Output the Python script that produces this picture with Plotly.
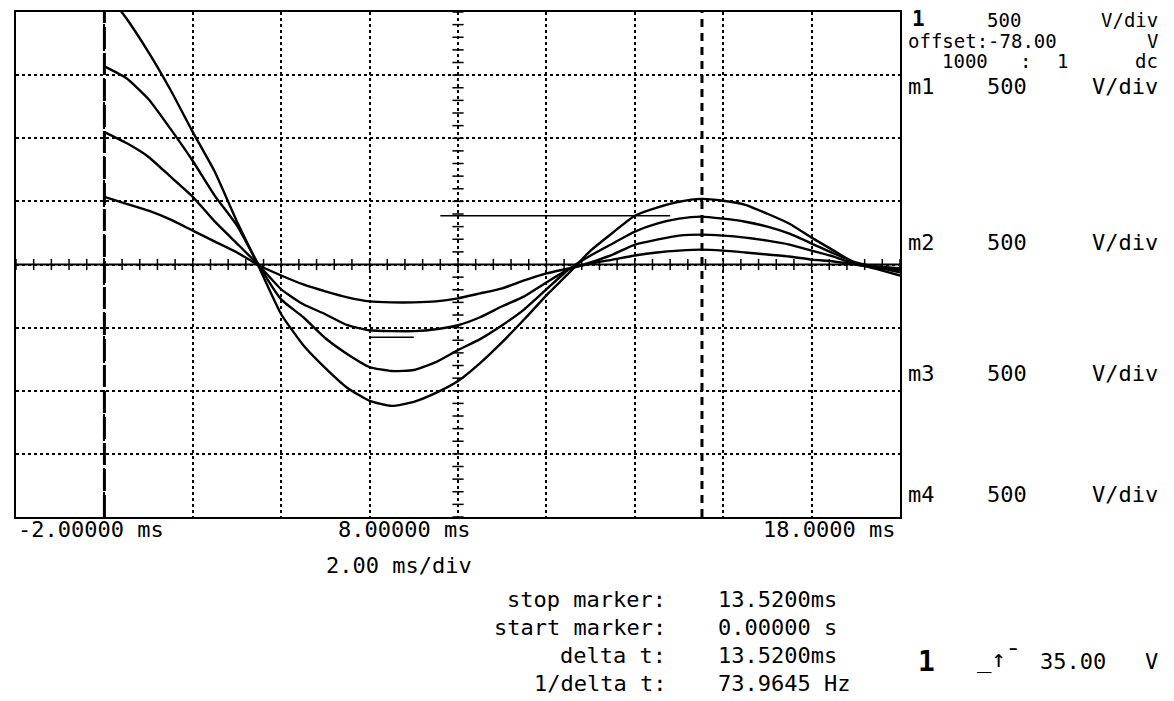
import plotly.graph_objects as go

# ---------------- data ----------------
time_ms = [0, 0.5, 1, 1.5, 2, 2.5, 3, 3.5, 4, 4.5, 5, 5.5, 6, 6.5, 7, 7.5, 8, 8.5,
           9, 9.5, 10, 10.5, 11, 11.5, 12, 12.5, 13, 13.5, 14, 14.5, 15, 15.5, 16,
           16.5, 17, 17.5, 18]

trace_1_v = [536, 481, 426, 355, 268, 181, 95, -8, -87, -158, -213, -260, -292, -300,
             -300, -292, -268, -229, -189, -126, -71, -32, 8, 39, 71, 95, 110, 118,
             110, 95, 79, 63, 39, 24, 0, -16, -32]
trace_2_v = [1049, 962, 852, 694, 536, 339, 166, -8, -197, -315, -394, -481, -521, -528,
             -528, -513, -481, -418, -331, -252, -142, -39, 16, 79, 158, 197, 229, 237,
             229, 213, 189, 158, 110, 63, 0, -24, -47]
trace_3_v = [1569, 1475, 1309, 1072, 820, 544, 308, -8, -276, -418, -584, -710, -812, -844,
             -836, -773, -678, -591, -481, -355, -197, -39, 71, 166, 260, 323, 363, 379,
             363, 339, 300, 244, 166, 87, 16, -24, -63]
trace_4_v = [2177, 1948, 1680, 1380, 1049, 733, 339, -24, -394, -639, -820, -978, -1080, -1120,
             -1088, -1017, -923, -781, -615, -434, -244, -71, 110, 252, 386, 450, 497, 520,
             505, 473, 402, 323, 213, 110, 8, -39, -87]

start_marker_ms = 0.0
stop_marker_ms = 13.52

# stray horizontal print segments
seg1_t = [7.6, 12.8]
seg1_v = [386, 386]
seg2_t = [6.0, 7.0]
seg2_v = [-576, -576]

x_range = [-2, 18]
y_range = [-2000, 2000]
x_div = 2
y_div = 500

# ---------------- figure ----------------
FONT = "DejaVu Sans Mono"
fig = go.Figure()

for vals in [trace_1_v, trace_2_v, trace_3_v, trace_4_v]:
    fig.add_trace(go.Scatter(x=time_ms, y=vals, mode="lines",
                             line=dict(color="black", width=2.4, shape="spline", smoothing=0.5),
                             showlegend=False, hoverinfo="skip"))

for st, sv in [(seg1_t, seg1_v), (seg2_t, seg2_v)]:
    fig.add_trace(go.Scatter(x=st, y=sv, mode="lines", line=dict(color="black", width=1.5),
                             showlegend=False, hoverinfo="skip"))

# marker lines
fig.add_trace(go.Scatter(x=[start_marker_ms, start_marker_ms], y=y_range, mode="lines",
                         line=dict(color="black", width=3, dash="22px,4px"),
                         showlegend=False, hoverinfo="skip"))
fig.add_trace(go.Scatter(x=[stop_marker_ms, stop_marker_ms], y=y_range, mode="lines",
                         line=dict(color="black", width=3, dash="8px,6px"),
                         showlegend=False, hoverinfo="skip"))

# center-line minor ticks
xt = [x_range[0] + 0.4 * k for k in range(int((x_range[1] - x_range[0]) / 0.4) + 1)]
fig.add_trace(go.Scatter(x=xt, y=[0] * len(xt), mode="markers",
                         marker=dict(symbol="line-ns", size=8, line=dict(color="black", width=1.5)),
                         showlegend=False, hoverinfo="skip"))
yt = [y_range[0] + 100 * k for k in range(int((y_range[1] - y_range[0]) / 100) + 1)]
fig.add_trace(go.Scatter(x=[8] * len(yt), y=yt, mode="markers",
                         marker=dict(symbol="line-ew", size=8, line=dict(color="black", width=1.5)),
                         showlegend=False, hoverinfo="skip"))
# solid horizontal centre line
fig.add_trace(go.Scatter(x=x_range, y=[0, 0], mode="lines", line=dict(color="black", width=2),
                         showlegend=False, hoverinfo="skip"))

# page geometry (the html body has an 8px margin)
PAGE_W, PAGE_H, BODY = 1174, 701, 8
W, H = PAGE_W - BODY, PAGE_H - BODY
PL, PR, PT, PB = 16, 900, 10, 517          # plot area in page pixels
L, T = PL - BODY, PT - BODY
R, B = PAGE_W - PR, PAGE_H - PB
PW, PH = PR - PL, PB - PT


def px(x):
    return (x - PL) / PW


def py(y):
    return (PB - y) / PH


ann = []


def txt(s, x, y, anchor="left", size=22, bold=False):
    ann.append(dict(text=("<b>%s</b>" % s) if bold else s, x=px(x), y=py(y), xref="paper",
                    yref="paper", xanchor=anchor, yanchor="middle", showarrow=False,
                    font=dict(family=FONT, size=size, color="black")))


# right panel (tight top rows)
txt("1", 910, 17, size=21, bold=True)
txt("500", 985, 18, size=19)
txt("V/div", 1160, 18, anchor="right", size=19)
txt("offset:-78.00", 906, 39, size=19)
txt("V", 1160, 39, anchor="right", size=19)
txt("1000", 940, 59, size=19)
txt(":", 1025, 59, anchor="center", size=19)
txt("1", 1062, 59, anchor="center", size=19)
txt("dc", 1160, 59, anchor="right", size=19)
for lab, yy in [("m1", 85), ("m2", 241), ("m3", 373), ("m4", 494)]:
    txt(lab, 906, yy)
    txt("500", 985, yy)
    txt("V/div", 1160, yy, anchor="right")
txt("1", 927, 662, anchor="center", size=28, bold=True)
txt("_↑¯", 998, 660, anchor="center", size=24)
txt("35.00", 1038, 662)
txt("V", 1160, 662, anchor="right")

# bottom time labels
txt("-2.00000 ms", 16, 530)
txt("8.00000 ms", 336, 530)
txt("18.0000 ms", 897, 530, anchor="right")
txt("2.00 ms/div", 324, 566)

rows = [("stop marker:", "13.5200ms", 600), ("start marker:", "0.00000 s", 628),
        ("delta t:", "13.5200ms", 656), ("1/delta t:", "73.9645 Hz", 684)]
for lab, val, yy in rows:
    txt(lab, 668, yy, anchor="right")
    txt(val, 716, yy)

fig.update_layout(
    width=W, height=H, margin=dict(l=L, r=R, t=T, b=B),
    paper_bgcolor="white", plot_bgcolor="white", annotations=ann,
    xaxis=dict(range=x_range, dtick=x_div, tick0=x_range[0], showticklabels=False, ticks="",
               showgrid=True, gridcolor="black", gridwidth=1.5, griddash="dot",
               zeroline=False, showline=True, linecolor="black", linewidth=2, mirror=True),
    yaxis=dict(range=y_range, dtick=y_div, tick0=y_range[0], showticklabels=False, ticks="",
               showgrid=True, gridcolor="black", gridwidth=1.5, griddash="dot",
               zeroline=False, showline=True, linecolor="black", linewidth=2, mirror=True),
)

fig.write_html("out.html")
